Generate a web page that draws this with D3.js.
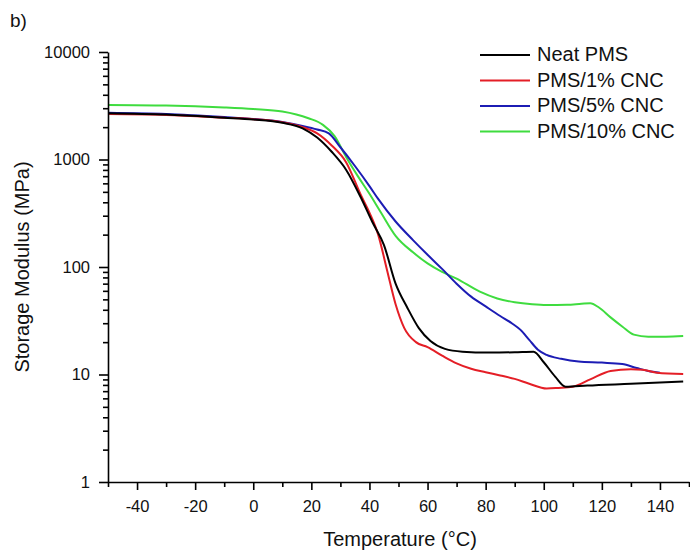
<!DOCTYPE html>
<html>
<head>
<meta charset="utf-8">
<script src="https://cdn.jsdelivr.net/npm/d3@7"></script>
<style>
  html, body { margin: 0; padding: 0; background: #fff; }
  svg { display: block; font-family: "Liberation Sans", Arial, sans-serif; }
</style>
</head>
<body>
<svg id="chart" width="690" height="552"></svg>
<script>
// ---- data ----
const seriesNames = ["Neat PMS", "PMS/1% CNC", "PMS/5% CNC", "PMS/10% CNC"];
const seriesColors = ["#000000", "#e41e26", "#1c1cb4", "#3fdc3f"];

const neatT = [-50,-30,-10,0,10,17,22,27,32,37,41,45,49,53,57,61,66,72,81,90,96.5,100,104,107.5,115,130,148];
const neatV = [2700,2620,2450,2360,2200,1950,1600,1180,800,445,262,160,70,42,27,20.5,17.3,16.3,16.0,16.1,16.3,13,9.5,7.7,7.9,8.2,8.6];

const cnc1T = [-50,-30,-10,0,10,17,22,27,32,37,40,43,46,49,52,56,60,65,70,75,80,85,90,95,101,105,110,116,123,130,134,139,148];
const cnc1V = [2650,2600,2450,2370,2220,2000,1750,1350,940,470,320,200,95,45,27,20,18,15,12.7,11.3,10.5,9.8,9.1,8.2,7.4,7.5,7.7,9.0,10.8,11.2,11.1,10.4,10.1];

const cnc5T = [-50,-30,-10,0,10,17,22,26,30,35,40,43,49,55,60,65,70,75,80,85,89,92,95,98,101,106,112,120,127,132,136,140];
const cnc5V = [2720,2650,2480,2380,2230,2050,1900,1750,1300,870,566,430,265,178,130,96,70,53,43,35,30,26,21,17,15.2,14,13.2,12.9,12.5,11.5,10.8,10.4];

const cnc10T = [-50,-30,-10,0,10,19,24,28,32,36,40,44,49,55,60,65,70,78,84,90,96,101,108,113,116,119,123,127,131,136,142,148];
const cnc10V = [3220,3180,3050,2950,2800,2420,2100,1650,1050,700,480,320,195,137,108,90,78,59,51,47,45,44.3,44.5,45.5,46,42,34,28,23.5,22.5,22.5,22.8];

const xMajorTicks = [-40,-20,0,20,40,60,80,100,120,140];
const xMinorTicks = [-50,-30,-10,10,30,50,70,90,110,130,150];
const yMajorTicks = [1,10,100,1000,10000];

const xTitle = "Temperature (°C)";
const yTitle = "Storage Modulus (MPa)";
const panelLabel = "b)";

// ---- layout ----
const plotLeft = 108, plotRight = 689, plotTop = 52, plotBottom = 482;
const svg = d3.select("#chart");

const x = d3.scaleLinear().domain([-50, 150]).range([plotLeft, plotRight]);
const y = d3.scaleLog().domain([1, 10000]).range([plotBottom, plotTop]);

const yMinorTicks = [];
for (let d = 1; d < 10000; d *= 10) for (let k = 2; k <= 9; k++) yMinorTicks.push(d * k);

// curves
const series = [
  {t: neatT, v: neatV},
  {t: cnc1T, v: cnc1V},
  {t: cnc5T, v: cnc5V},
  {t: cnc10T, v: cnc10V}
];
const line = d3.line().x(d => x(d[0])).y(d => y(d[1])).curve(d3.curveMonotoneX);
const gLines = svg.append("g");
[3, 2, 1, 0].forEach(i => {
  const s = series[i];
  const pts = s.t.map((t, j) => [t, s.v[j]]);
  gLines.append("path").attr("d", line(pts))
    .attr("fill", "none").attr("stroke", seriesColors[i])
    .attr("stroke-width", 2).attr("stroke-linejoin", "round");
});

// axes
const fs = 16.5;
const plain = d => String(d);
const xAxisMinor = svg.append("g").attr("transform", `translate(0,${plotBottom})`)
  .call(d3.axisBottom(x).tickValues(xMinorTicks).tickSize(5).tickFormat(""));
const xAxis = svg.append("g").attr("transform", `translate(0,${plotBottom})`)
  .call(d3.axisBottom(x).tickValues(xMajorTicks).tickSize(8).tickSizeOuter(0).tickPadding(10).tickFormat(plain));
const yAxisMinor = svg.append("g").attr("transform", `translate(${plotLeft},0)`)
  .call(d3.axisLeft(y).tickValues(yMinorTicks).tickSize(5).tickFormat(""));
const yAxis = svg.append("g").attr("transform", `translate(${plotLeft},0)`)
  .call(d3.axisLeft(y).tickValues(yMajorTicks).tickSize(9).tickSizeOuter(0).tickPadding(9).tickFormat(plain));

[xAxisMinor, xAxis, yAxisMinor, yAxis].forEach(g => {
  g.selectAll("path.domain").attr("stroke", "#000").attr("stroke-width", 1.6);
  g.selectAll(".tick line").attr("stroke", "#000").attr("stroke-width", 1.6);
  g.selectAll(".tick text").attr("fill", "#111").style("font-size", fs + "px")
    .style("font-family", "'Liberation Sans', Arial, sans-serif");
});
xAxisMinor.select("path.domain").remove();
yAxisMinor.select("path.domain").remove();

// titles
svg.append("text").attr("x", 400).attr("y", 546).attr("text-anchor", "middle")
  .style("font-size", "20px").attr("fill", "#111").text(xTitle);
svg.append("text").attr("transform", "translate(29,267) rotate(-90)").attr("text-anchor", "middle")
  .style("font-size", "20px").attr("fill", "#111").text(yTitle);
svg.append("text").attr("x", 10).attr("y", 27)
  .style("font-size", "19px").attr("fill", "#111").text(panelLabel);

// legend
const lg = svg.append("g");
seriesNames.forEach((name, i) => {
  const ly = 55 + 25.5 * i;
  lg.append("line").attr("x1", 480).attr("x2", 530).attr("y1", ly).attr("y2", ly)
    .attr("stroke", seriesColors[i]).attr("stroke-width", 2);
  lg.append("text").attr("x", 537).attr("y", ly + 6)
    .style("font-size", "20px").attr("fill", "#111").text(name);
});
</script>
</body>
</html>
